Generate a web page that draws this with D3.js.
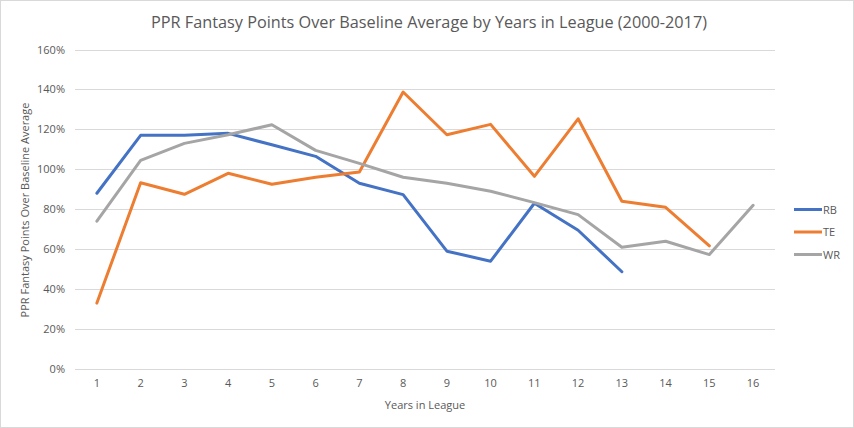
<!DOCTYPE html>
<html><head><meta charset="utf-8">
<script src="https://cdn.jsdelivr.net/npm/d3@7"></script>
<style>
html,body{margin:0;padding:0;background:#fff;}
svg{display:block;}
text{font-family:"Open Sans","Liberation Sans",sans-serif;fill:#595959;}
</style></head>
<body>
<svg id="chart" width="854" height="428"></svg>
<script>
const years = [1,2,3,4,5,6,7,8,9,10,11,12,13,14,15,16];
const rbValues = [88,117,117,118,112.3,106.5,93,87.3,59,54,83,69.5,48.7,null,null,null];
const teValues = [33,93.3,87.5,98,92.5,96,98.7,138.7,117.3,122.5,96.5,125.3,84,81,61.7,null];
const wrValues = [74,104.5,113,117.3,122.3,109.5,103,96,93,89,83.3,77.3,61,64,57.3,82];
const seriesNames = ["RB","TE","WR"];
const seriesColors = ["#4472C4","#ED7D31","#A5A5A5"];
const yTicks = [0,20,40,60,80,100,120,140,160];
const titleText = "PPR Fantasy Points Over Baseline Average by Years in League (2000-2017)";
const xTitle = "Years in League";
const yTitle = "PPR Fantasy Points Over Baseline Average";

(function(){
const svg = d3.select("#chart");
svg.append("rect").attr("x",0.5).attr("y",0.5).attr("width",853).attr("height",427)
  .attr("fill","#fff").attr("stroke","#D9D9D9");

const pl = 75, pr = 775, pt = 49.5, pb = 369;
const x = d3.scaleBand().domain(years).range([pl,pr]);
const y = d3.scaleLinear().domain([0,160]).range([pb,pt]);

svg.append("g").selectAll("line").data(yTicks).join("line")
  .attr("x1",pl).attr("x2",pr)
  .attr("y1",d=>Math.round(y(d))+0.5).attr("y2",d=>Math.round(y(d))+0.5)
  .attr("stroke","#D9D9D9").attr("stroke-width",1);

const yAxis = d3.axisLeft(y).tickValues(yTicks).tickFormat(d=>d+"%").tickSize(0).tickPadding(10);
const gy = svg.append("g").attr("transform",`translate(${pl},0)`).call(yAxis);
gy.select(".domain").remove();
gy.selectAll("text").attr("font-size",11).attr("fill","#595959")
  .style("font-family",'"Open Sans","Liberation Sans",sans-serif');

const xAxis = d3.axisBottom(x).tickSize(0).tickPadding(10);
const gx = svg.append("g").attr("transform",`translate(0,${pb})`).call(xAxis);
gx.select(".domain").remove();
gx.selectAll("text").attr("font-size",11).attr("fill","#595959")
  .style("font-family",'"Open Sans","Liberation Sans",sans-serif');

const allSeries = [rbValues, teValues, wrValues];
const line = d3.line()
  .defined(d=>d.v!=null)
  .x(d=>x(d.k)+x.bandwidth()/2)
  .y(d=>y(d.v));
allSeries.forEach((vals,i)=>{
  const pts = years.map((k,j)=>({k, v: vals[j]}));
  svg.append("path").datum(pts).attr("d",line)
    .attr("fill","none").attr("stroke",seriesColors[i])
    .attr("stroke-width",3).attr("stroke-linejoin","round").attr("stroke-linecap","round");
});

svg.append("text").attr("x",429).attr("y",28).attr("text-anchor","middle")
  .attr("font-size",17).text(titleText)
  .attr("textLength",556).attr("lengthAdjust","spacingAndGlyphs");

svg.append("text").attr("x",425).attr("y",409).attr("text-anchor","middle")
  .attr("font-size",11).text(xTitle);
svg.append("text").attr("transform","translate(29,210) rotate(-90)").attr("text-anchor","middle")
  .attr("font-size",11).text(yTitle);

const lg = svg.append("g");
seriesNames.forEach((n,i)=>{
  const ly = 209.5 + i*22.5;
  lg.append("line").attr("x1",794).attr("x2",822).attr("y1",ly).attr("y2",ly)
    .attr("stroke",seriesColors[i]).attr("stroke-width",3);
  lg.append("text").attr("x",823).attr("y",ly+4).attr("font-size",11).text(n);
});
})();
</script>
</body></html>
